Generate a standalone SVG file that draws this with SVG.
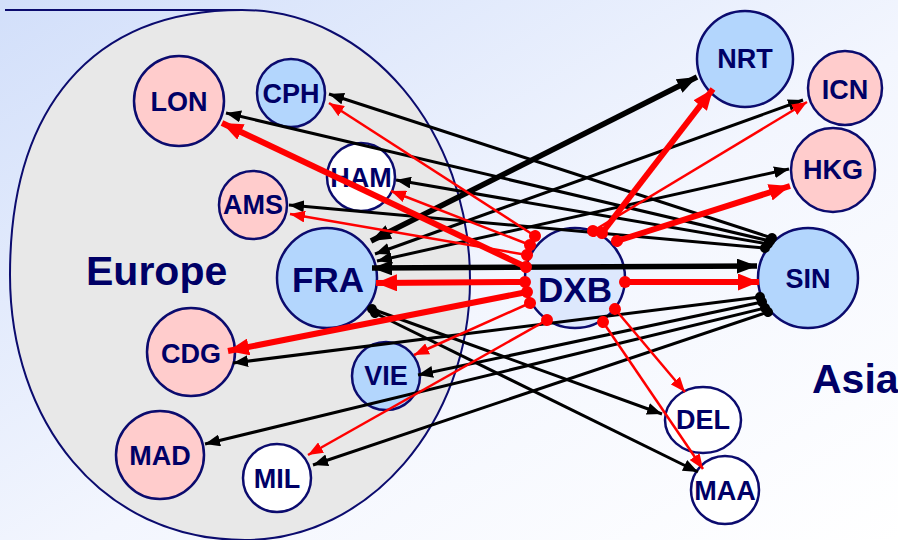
<svg xmlns="http://www.w3.org/2000/svg" width="898" height="540" viewBox="0 0 898 540">
<defs>
<linearGradient id="bg" x1="0" y1="0" x2="1" y2="1">
<stop offset="0" stop-color="#d2dffa"/>
<stop offset="0.55" stop-color="#f3f6fe"/>
<stop offset="1" stop-color="#ffffff"/>
</linearGradient>
<marker id="aK" markerUnits="userSpaceOnUse" markerWidth="15" markerHeight="12" refX="15" refY="6" orient="auto-start-reverse"><path d="M0,0 L15,6 L0,12 z" fill="#000"/></marker>
<marker id="aKB" markerUnits="userSpaceOnUse" markerWidth="20" markerHeight="15" refX="20" refY="7.5" orient="auto-start-reverse"><path d="M0,0 L20,7.5 L0,15 z" fill="#000"/></marker>
<marker id="aR" markerUnits="userSpaceOnUse" markerWidth="15" markerHeight="12" refX="15" refY="6" orient="auto"><path d="M0,0 L15,6 L0,12 z" fill="#ff0000"/></marker>
<marker id="aRB" markerUnits="userSpaceOnUse" markerWidth="21" markerHeight="17" refX="21" refY="8.5" orient="auto"><path d="M0,0 L21,8.5 L0,17 z" fill="#ff0000"/></marker>
<marker id="dR" markerUnits="userSpaceOnUse" markerWidth="14" markerHeight="14" refX="7" refY="7" orient="auto"><circle cx="7" cy="7" r="6" fill="#ff0000"/></marker>
<marker id="dK" markerUnits="userSpaceOnUse" markerWidth="12" markerHeight="12" refX="6" refY="6" orient="auto"><circle cx="6" cy="6" r="5" fill="#000"/></marker>
</defs>
<style>
.n{stroke:#0b0b6e;stroke-width:2.5}
.pk{fill:#ffcccc}.bl{fill:#b3d6fd}.wh{fill:#ffffff}.hub{fill:#dde8fd}
.t{font-family:"Liberation Sans",Arial,sans-serif;font-weight:bold;fill:#000066;text-anchor:middle;font-size:27px}
.tb{font-size:35px}
.reg{font-family:"Liberation Sans",Arial,sans-serif;font-weight:bold;fill:#000066;font-size:41px}
.k{stroke:#000;fill:none;stroke-width:3}
.kb{stroke:#000;fill:none;stroke-width:5.5}
.r{stroke:#ff0000;fill:none;stroke-width:2.5}
.rb{stroke:#ff0000;fill:none;stroke-width:6}
</style>
<rect x="0" y="0" width="898" height="540" fill="url(#bg)"/>
<g id="europe-region">
<path d="M242,10 C368,10 470,131 470,280 C470,423 369,540 245,540 C100,540 10,420 10,275 C10,110 90,10 242,10 Z" fill="#e8e8e8" stroke="#0b0b6e" stroke-width="2"/>
<line x1="5" y1="10" x2="242" y2="10" stroke="#0b0b6e" stroke-width="2"/>
<text class="reg" x="86" y="285">Europe</text>
</g>
<text class="reg" x="812" y="393" id="asia-label">Asia</text>
<g id="LON"><circle class="n pk" cx="179" cy="101" r="45"/><text class="t" x="179" y="111">LON</text></g>
<g id="CPH"><circle class="n bl" cx="291" cy="93" r="34"/><text class="t" x="291" y="103">CPH</text></g>
<g id="HAM"><circle class="n wh" cx="361" cy="177" r="34"/><text class="t" x="361" y="187">HAM</text></g>
<g id="AMS"><circle class="n pk" cx="253" cy="205" r="34"/><text class="t" x="253" y="214">AMS</text></g>
<g id="FRA"><circle class="n bl" cx="327" cy="278" r="50"/><text class="t tb" x="328" y="292">FRA</text></g>
<g id="DXB"><circle class="n hub" cx="575" cy="278" r="50"/><text class="t tb" x="575" y="302">DXB</text></g>
<g id="SIN"><circle class="n bl" cx="808" cy="278" r="50"/><text class="t" x="808" y="288">SIN</text></g>
<g id="NRT"><circle class="n bl" cx="745" cy="59" r="48"/><text class="t" x="745" y="68">NRT</text></g>
<g id="ICN"><circle class="n pk" cx="845" cy="88" r="37"/><text class="t" x="845" y="99">ICN</text></g>
<g id="HKG"><circle class="n pk" cx="833" cy="170" r="42"/><text class="t" x="833" y="179">HKG</text></g>
<g id="CDG"><circle class="n pk" cx="191" cy="352" r="44"/><text class="t" x="191" y="363">CDG</text></g>
<g id="VIE"><circle class="n bl" cx="386" cy="376" r="34"/><text class="t" x="386" y="385">VIE</text></g>
<g id="MAD"><circle class="n pk" cx="160" cy="455" r="44"/><text class="t" x="160" y="465">MAD</text></g>
<g id="MIL"><circle class="n wh" cx="277" cy="478" r="34"/><text class="t" x="277" y="488">MIL</text></g>
<g id="DEL"><ellipse class="n wh" cx="703" cy="420" rx="38" ry="33"/><text class="t" x="703" y="429">DEL</text></g>
<g id="MAA"><circle class="n wh" cx="725" cy="490" r="34"/><text class="t" x="725" y="500">MAA</text></g>
<g id="connectors">
<!-- SIN to Europe (black) -->
<line class="k" x1="772" y1="238" x2="329" y2="94" marker-start="url(#dK)" marker-end="url(#aK)"/>
<line class="k" x1="770" y1="241" x2="226" y2="113" marker-start="url(#dK)" marker-end="url(#aK)"/>
<line class="k" x1="768" y1="244" x2="396" y2="180" stroke-width="2.5" marker-start="url(#dK)" marker-end="url(#aK)"/>
<line class="k" x1="765" y1="248" x2="289" y2="205" marker-start="url(#dK)" marker-end="url(#aK)"/>
<line class="k" x1="760" y1="297" x2="233" y2="363" marker-start="url(#dK)" marker-end="url(#aK)"/>
<line class="k" x1="762" y1="302" x2="418" y2="375" marker-start="url(#dK)" marker-end="url(#aK)"/>
<line class="k" x1="765" y1="308" x2="205" y2="444" marker-start="url(#dK)" marker-end="url(#aK)"/>
<line class="k" x1="768" y1="312" x2="313" y2="465" marker-start="url(#dK)" marker-end="url(#aK)"/>
<!-- FRA to Asia (black) -->
<line class="kb" x1="371" y1="241" x2="697" y2="77" marker-start="url(#aKB)" marker-end="url(#aKB)"/>
<line class="k" x1="375" y1="254" x2="803" y2="100" stroke-width="2.5" marker-start="url(#aK)" marker-end="url(#aK)"/>
<line class="k" x1="377" y1="261" x2="789" y2="169" stroke-width="2.5" marker-start="url(#aK)" marker-end="url(#aK)"/>
<line class="kb" x1="372" y1="268" x2="757" y2="266" stroke-width="6" marker-start="url(#aKB)" marker-end="url(#aKB)"/>
<line class="k" x1="372" y1="309" x2="662" y2="414" marker-start="url(#dK)" marker-end="url(#aK)"/>
<line class="k" x1="375" y1="313" x2="698" y2="472" marker-start="url(#dK)" marker-end="url(#aK)"/>
<!-- DXB (red) -->
<line class="r" x1="535" y1="236" x2="329" y2="103" marker-start="url(#dR)" marker-end="url(#aR)"/>
<line class="r" x1="530" y1="245" x2="391" y2="191" marker-start="url(#dR)" marker-end="url(#aR)"/>
<line class="r" x1="527" y1="255" x2="290" y2="214" marker-start="url(#dR)" marker-end="url(#aR)"/>
<line class="rb" x1="526" y1="267" x2="222" y2="123" marker-start="url(#dR)" marker-end="url(#aRB)"/>
<line class="rb" x1="525" y1="282" x2="376" y2="283" marker-start="url(#dR)" marker-end="url(#aRB)"/>
<line class="rb" x1="527" y1="292" x2="228" y2="351" marker-start="url(#dR)" marker-end="url(#aRB)"/>
<line class="r" x1="530" y1="303" x2="414" y2="355" marker-start="url(#dR)" marker-end="url(#aR)"/>
<line class="r" x1="547" y1="320" x2="308" y2="455" marker-start="url(#dR)" marker-end="url(#aR)"/>
<line class="rb" x1="602" y1="233" x2="713" y2="89" stroke-width="5" marker-start="url(#dR)" marker-end="url(#aRB)"/>
<line class="r" x1="593" y1="231" x2="807" y2="102" stroke-width="3" marker-start="url(#dR)" marker-end="url(#aR)"/>
<line class="rb" x1="617" y1="241" x2="790" y2="186" marker-start="url(#dR)" marker-end="url(#aRB)"/>
<line class="rb" x1="625" y1="282" x2="759" y2="282" marker-start="url(#dR)" marker-end="url(#aRB)"/>
<line class="r" x1="615" y1="309" x2="685" y2="392" stroke-width="3" marker-start="url(#dR)" marker-end="url(#aR)"/>
<line class="r" x1="603" y1="322" x2="703" y2="469" stroke-width="3" marker-start="url(#dR)" marker-end="url(#aR)"/>
</g>
</svg>
